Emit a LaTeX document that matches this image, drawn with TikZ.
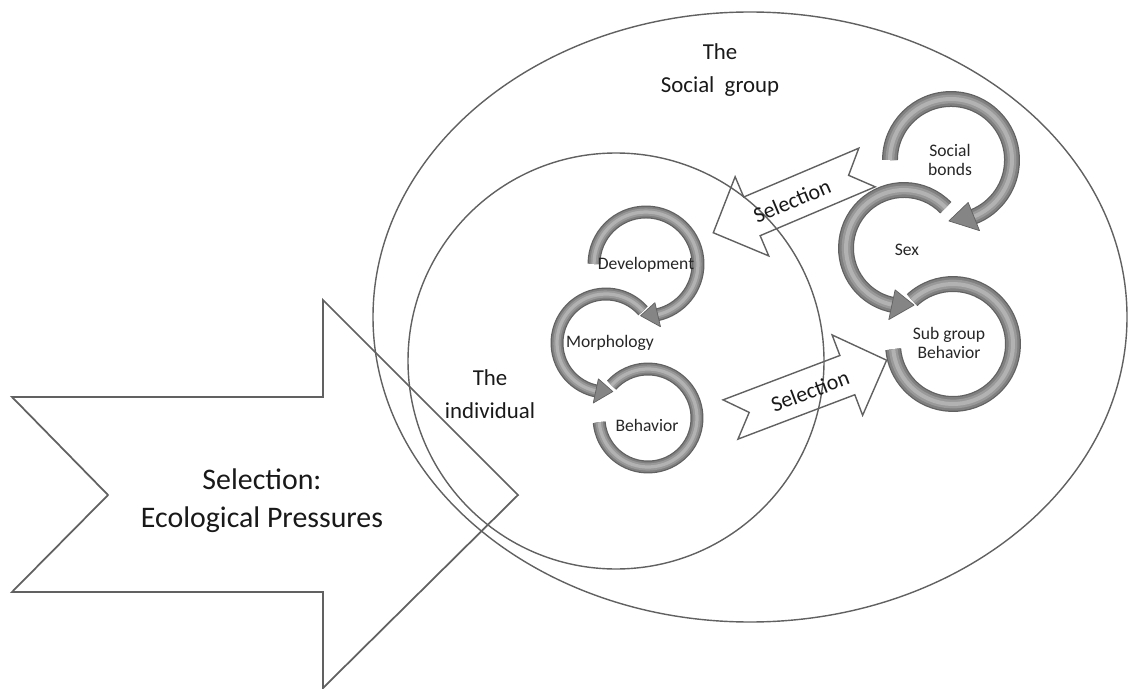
\documentclass[tikz,border=0pt]{standalone}
\usepackage{fontspec}
\setmainfont{Carlito}
\usetikzlibrary{calc}

\tikzset{
	lineout/.style={draw=black!62, line width=0.8pt, line join=miter},
	biglabel/.style={font=\fontsize{17}{21.5}\selectfont, text=black!90, align=center},
	grouplabel/.style={font=\fontsize{13}{19}\selectfont, text=black!90, align=center},
	cyclabel/.style={font=\fontsize{10}{10.8}\selectfont, text=black!85, align=center},
	sellabel/.style={font=\fontsize{12.5}{14}\selectfont, text=black!90},
	selarrow/.pic={
		\draw[lineout] (0,-21) -- (125,-21) -- (125,-43) -- (167,0) -- (125,43) -- (125,21) -- (0,21) -- (20,0) -- cycle;
	}
}

% ring of a cycle: center, radius, width, start, end
\newcommand\ringtrack[5]{
	\draw[draw=black!62, line width=#3*0.567pt] ($(#1)+(#4:#2)$) arc[start angle=#4, end angle=#5, radius=#2];
	\draw[draw=black!50, line width=(#3-2.5)*0.567pt] ($(#1)+(#4:#2)$) arc[start angle=#4, end angle=#5, radius=#2];
	\draw[draw=black!40, line width=#3*0.55*0.567pt] ($(#1)+(#4:#2)$) arc[start angle=#4, end angle=#5, radius=#2];
	\draw[draw=black!30, line width=#3*0.25*0.567pt] ($(#1)+(#4:#2)$) arc[start angle=#4, end angle=#5, radius=#2];
}
% head of a cycle: center, radius, width, base angle, tip angle
\newcommand\ringhead[5]{
	\pgfmathsetmacro\rgin{#2-0.95*#3}
	\pgfmathsetmacro\rgout{#2+0.95*#3}
	\filldraw[fill=black!48, draw=black!62, line width=0.4pt, line join=round] ($(#1)+(#4:\rgin)$) -- ($(#1)+(#4:\rgout)$) -- ($(#1)+(#5:#2)$) -- cycle;
}

\begin{document}
\begin{tikzpicture}[x=0.02cm, y=-0.02cm]
	\useasboundingbox (0,0) rectangle (1129,689);

	% groups
	\draw[lineout] (750,317) ellipse [x radius=377, y radius=305];
	\draw[lineout] (616,361) circle [radius=208];

	% ecological pressures
	\draw[lineout, line width=1pt] (12,397) -- (323,397) -- (323,300) -- (518,495) -- (323,688) -- (323,592) -- (12,592) -- (108,495) -- cycle;

	% selection between the levels
	\pic (selgo) [rotate=-157] at (867,167.5) {selarrow};
	\pic (selback) [rotate=20.8] at (730.5,419.5) {selarrow};

	% cycles of the individual
	\coordinate (dev) at (646,264);
	\coordinate (morph) at (606,343);
	\coordinate (beh) at (648,418);
	\ringtrack{beh}{49}{13}{222}{535}
	\ringtrack{morph}{49}{13}{-41}{-259}
	\ringhead{morph}{49}{13}{-258}{-278}
	\ringtrack{dev}{52}{13}{180}{438}
	\ringhead{dev}{52}{13}{437}{456}

	% cycles of the group
	\coordinate (bonds) at (951,160);
	\coordinate (sex) at (904,248);
	\coordinate (subgrp) at (953,344);
	\ringtrack{subgrp}{60}{16}{227}{535}
	\ringtrack{sex}{58}{16}{-44}{-259}
	\ringhead{sex}{58}{16}{-258}{-280}
	\ringtrack{bonds}{61}{16}{180}{429}
	\ringhead{bonds}{61}{16}{428}{452}

	% labels
	\node[grouplabel] (socialtxt) at (720,70) {The\\Social~ group};
	\node[grouplabel] (indivtxt) at (490,394) {The\\individual};
	\node[biglabel] (ecotxt) at (262,501) {Selection:\\Ecological Pressures};
	\node[cyclabel] (devtxt) at (646,265) {Development};
	\node[cyclabel] (morphtxt) at (610,343) {Morphology};
	\node[cyclabel] (behtxt) at (647,425) {Behavior};
	\node[cyclabel] (bondstxt) at (950,160) {Social\\bonds};
	\node[cyclabel] (sextxt) at (907,250) {Sex};
	\node[cyclabel] (subtxt) at (949,343) {Sub group\\Behavior};
	\node[sellabel, rotate=23] (selup) at (792,201) {Selection};
	\node[sellabel, rotate=20.8] (seldown) at (810,391) {Selection};
\end{tikzpicture}
\end{document}
